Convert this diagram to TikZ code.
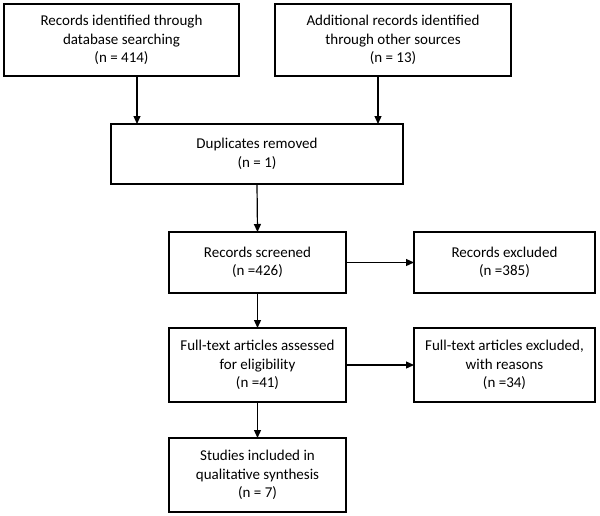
\documentclass[tikz,border=0pt]{standalone}
\usepackage{fontspec}
\setmainfont{Carlito}
\usetikzlibrary{arrows.meta}
\begin{document}
\begin{tikzpicture}[x=1pt,y=-1pt,
  box/.style={draw=black,line width=1.2pt,inner sep=0pt,outer sep=0pt,align=center,
    font=\fontsize{15}{18.5}\selectfont},
  arr/.style={line width=1.2pt,-{Triangle[length=8pt,width=7pt]}}]
\useasboundingbox (0,0) rectangle (600,515);
\node[box,minimum width=235pt,minimum height=72pt] (b1) at (121.5,40) {Records identified through\\database searching\\(n = 414)};
\node[box,minimum width=236pt,minimum height=72pt] (b2) at (393,40) {Additional records identified\\through other sources\\(n = 13)};
\node[box,minimum width=292pt,minimum height=60pt] (b3) at (257,154) {Duplicates removed\\(n = 1)};
\node[box,minimum width=177pt,minimum height=61pt] (b4) at (257.5,262.5) {Records screened\\(n =426)};
\node[box,minimum width=181pt,minimum height=61pt] (b5) at (504.5,262.5) {Records excluded\\(n =385)};
\node[box,minimum width=177pt,minimum height=74pt] (b6) at (257.5,365) {Full-text articles assessed\\for eligibility\\(n =41)};
\node[box,minimum width=181pt,minimum height=74pt] (b7) at (504.5,365) {Full-text articles excluded,\\with reasons\\(n =34)};
\node[box,minimum width=177pt,minimum height=74pt] (b8) at (257.5,475) {Studies included in\\qualitative synthesis\\(n = 7)};
\coordinate (c1) at (137,0);
\coordinate (c2) at (378,0);
\draw[arr] (b1.south -| c1) -- (b3.north -| c1);
\draw[arr] (b2.south -| c2) -- (b3.north -| c2);
\draw[arr] (b3.south) -- (b4.north);
\draw[arr] (b4.east) -- (b5.west);
\draw[arr] (b4.south) -- (b6.north);
\draw[arr] (b6.east) -- (b7.west);
\draw[arr] (b6.south) -- (b8.north);
\end{tikzpicture}
\end{document}
